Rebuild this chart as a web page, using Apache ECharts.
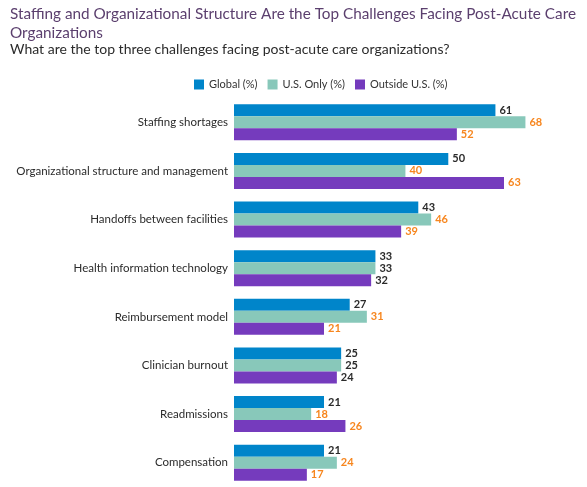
<!DOCTYPE html>
<html lang="en">
<head>
  <meta charset="UTF-8">
  <title>Post-acute care challenges</title>
  <style>
    html, body { margin: 0; width: 100%; height: 100%; background: #fff; }
  </style>
</head>
<body>
  <div id="chart" style="width:587px;height:487px"></div>
  <script src="https://cdn.jsdelivr.net/npm/echarts@6/dist/echarts.min.js"></script>
  <script>
    const categories = [
      'Staffing shortages',
      'Organizational structure and management',
      'Handoffs between facilities',
      'Health information technology',
      'Reimbursement model',
      'Clinician burnout',
      'Readmissions',
      'Compensation'
    ]
    const seriesNames = ['Global (%)', 'U.S. Only (%)', 'Outside U.S. (%)']
    const globalVals = [61, 50, 43, 33, 27, 25, 21, 21]
    const usVals = [68, 40, 46, 33, 31, 25, 18, 24]
    const outsideVals = [52, 63, 39, 32, 21, 24, 26, 17]
    // which labels are highlighted in orange (significant difference)
    const usFlag = [1, 1, 1, 0, 1, 0, 1, 1]
    const outsideFlag = [1, 1, 1, 0, 1, 0, 1, 1]

    const colors = ['#0085CA', '#88C8BA', '#753BBD']
    const font = 'Lato'

    function makeSeries(idx, vals, flags) {
      return {
        name: seriesNames[idx],
        type: 'bar',
        barWidth: 12,
        barGap: '0%',
        itemStyle: { color: colors[idx] },
        data: vals.map((v, i) => ({
          value: v,
          label: {
            color: flags && flags[i] ? '#F7861E' : '#2b2b2b'
          }
        })),
        label: {
          show: true,
          position: 'right',
          distance: 4,
          fontFamily: font,
          fontWeight: 'bold',
          fontSize: 11
        }
      }
    }

    const option = {
      animation: false,
      title: [{
        text: 'Staffing and Organizational Structure Are the Top Challenges Facing Post-Acute Care\nOrganizations',
        left: 5,
        top: 0,
        textStyle: {
          color: '#5b3f6e',
          fontFamily: font,
          fontWeight: 'normal',
          fontSize: 15.3,
          lineHeight: 19
        }
      }, {
        text: 'What are the top three challenges facing post-acute care organizations?',
        left: 5,
        top: 37,
        textStyle: {
          color: '#2b2b2b',
          fontFamily: font,
          fontWeight: 'normal',
          fontSize: 14
        }
      }],
      legend: {
        top: 74,
        left: 189,
        itemWidth: 10,
        itemHeight: 10,
        itemGap: 10,
        icon: 'rect',
        textStyle: { fontFamily: font, fontSize: 11, color: '#333' },
        data: seriesNames
      },
      grid: {
        left: 234,
        top: 98,
        width: 300,
        height: 390,
        containLabel: false
      },
      xAxis: {
        type: 'value',
        min: 0,
        max: 70,
        show: false
      },
      yAxis: {
        type: 'category',
        inverse: true,
        data: categories,
        axisLine: { show: false },
        axisTick: { show: false },
        axisLabel: {
          margin: 6,
          color: '#2b2b2b',
          fontFamily: font,
          fontSize: 11.5
        }
      },
      series: [
        makeSeries(0, globalVals, null),
        makeSeries(1, usVals, usFlag),
        makeSeries(2, outsideVals, outsideFlag)
      ]
    }

    const myChart = echarts.init(document.getElementById('chart'))
    myChart.setOption(option)
  </script>
</body>
</html>
